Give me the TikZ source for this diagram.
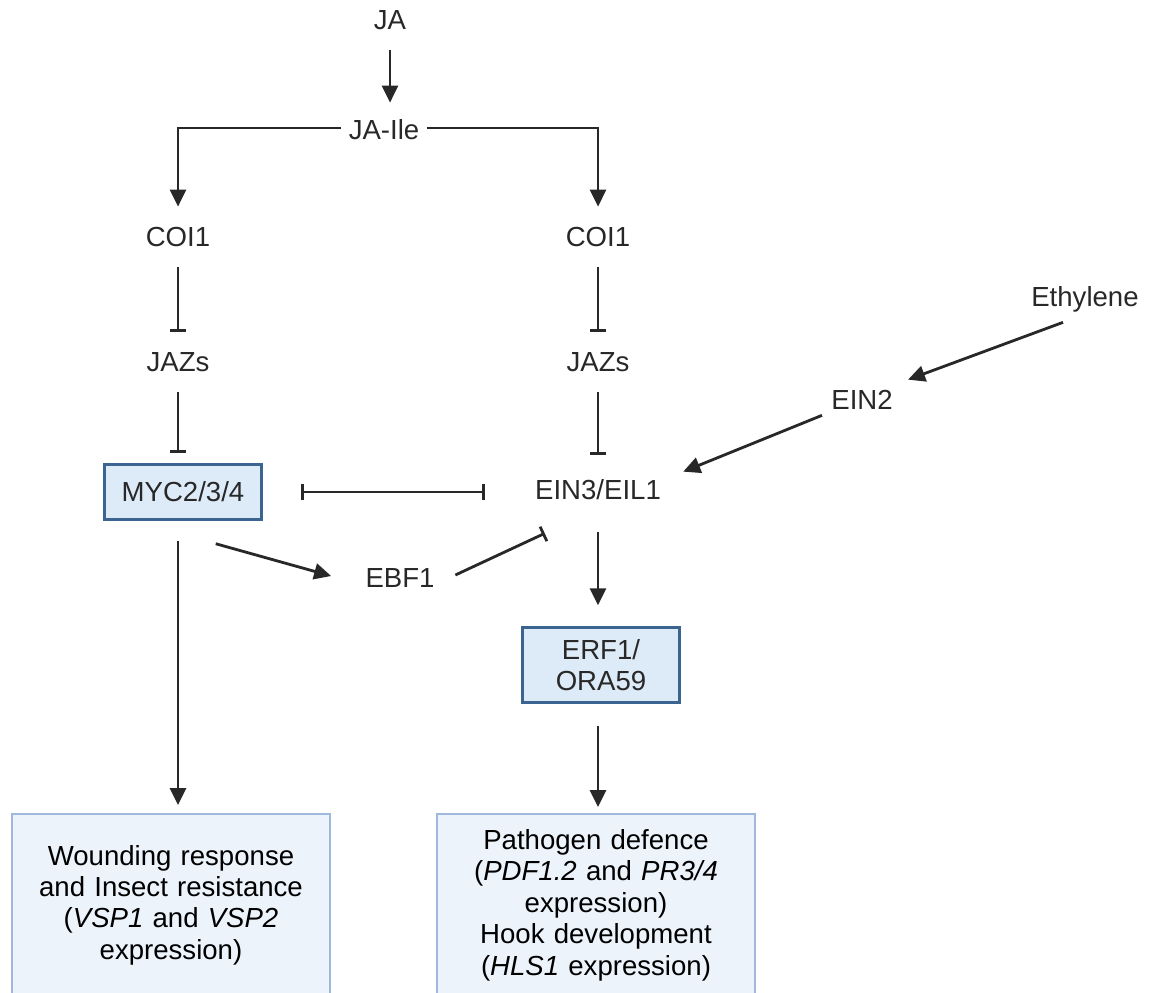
\documentclass[tikz,border=0pt]{standalone}
\usepackage{fontspec}
\setmainfont{Liberation Sans}
\usetikzlibrary{arrows.meta,positioning}
\definecolor{ink}{RGB}{40,40,40}
\definecolor{tfFill}{RGB}{221,235,248}
\definecolor{tfEdge}{RGB}{60,100,145}
\definecolor{outFill}{RGB}{237,243,251}
\definecolor{outEdge}{RGB}{160,183,222}
\tikzset{
  sig/.style={inner xsep=4pt,inner ysep=0pt,minimum height=1.2cm,text=ink,
    font=\fontsize{15.7}{17.9}\selectfont},
  tf/.style={draw=tfEdge,fill=tfFill,line width=1.4pt,minimum width=3.14cm,
    minimum height=1.1cm,align=center,text=ink,font=\fontsize{15.7}{17.9}\selectfont},
  outcome/.style={draw=outEdge,fill=outFill,line width=1.2pt,minimum width=6.36cm,
    minimum height=3.64cm,text width=6cm,align=center,anchor=north,text=black,
    font=\fontsize{15.7}{17.9}\selectfont},
  act/.style={-{Triangle[length=3.4mm,width=3.2mm]},line width=1.6pt,draw=ink},
  inh/.style={-{Bar[width=3.2mm]},line width=1.6pt,draw=ink},
  mutual/.style={{Bar[width=3.2mm]}-{Bar[width=3.2mm]},line width=1.6pt,draw=ink},
}

\begin{document}
\begin{tikzpicture}[x=0.02cm,y=-0.02cm]
  \clip (0,0) rectangle (1152,993);
  % jasmonate input
  \node[sig] (ja) at (390,20) {JA};
  \node[sig] (jaile) at (384,130) {JA-Ile};
  % the two COI1 branches
  \node[sig] (coiL) at (178,237) {COI1};
  \node[sig] (coiR) at (598,237) {COI1};
  \node[sig] (jazL) at (178,362) {JAZs};
  \node[sig] (jazR) at (598,362) {JAZs};
  \node[tf] (myc) at (183,492) {MYC2/3/4};
  \node[sig] (ein3) at (598,490) {EIN3/EIL1};
  \node[sig] (ebf) at (400,578) {EBF1};
  % ethylene side
  \node[sig] (eth) at (1085,299) {Ethylene};
  \node[sig] (ein2) at (862,400) {EIN2};
  \node[tf,minimum height=1.5cm] (erf) at (601,665) {ERF1/\\ORA59};
  % responses
  \node[outcome] (wound) at (171,813) {Wounding response\\and Insect resistance\\
    (\textit{VSP1} and \textit{VSP2}\\expression)};
  \node[outcome] (patho) at (596,813) {Pathogen defence\\(\textit{PDF1.2} and \textit{PR3/4}\\
    expression)\\Hook development\\(\textit{HLS1} expression)};

  \draw[act,shorten >=-0.06cm] (ja) -- (ja |- jaile.north);
  \draw[act] ([yshift=0.04cm]jaile.west) -| (coiL.north);
  \draw[act] ([yshift=0.04cm]jaile.east) -| (coiR.north);
  \draw[inh] (coiL) -- (jazL);
  \draw[inh] (coiR) -- (jazR);
  \draw[inh,shorten >=0.2cm] (jazL) -- (jazL |- myc.north);
  \draw[inh,shorten >=0.1cm] (jazR) -- (ein3);
  \draw[mutual,shorten <=0.77cm,shorten >=0.86cm] (myc.east) -- (myc.east -| ein3.west);
  \draw[act,shorten <=0.4cm,shorten >=0.16cm] (coiL |- myc.south) -- (coiL |- wound.north);
  \draw[act] ([shift={(-47,23)}]myc.south east) -- ([shift={(-27,-2)}]ebf.west);
  \draw[inh] ([shift={(13.5,-3)}]ebf.east) -- ([shift={(17,13)}]ein3.south west);
  \draw[act] ([shift={(-22,-7)}]eth.south) -- ([shift={(8,10)}]ein2.north east);
  \draw[act] ([shift={(-2,-15)}]ein2.south west) -- ([shift={(15,12)}]ein3.north east);
  \draw[act,shorten <=0.24cm,shorten >=0.42cm] (ein3.south) -- (ein3.south |- erf.north);
  \draw[act,shorten <=0.44cm,shorten >=0.12cm] (ein3 |- erf.south) -- (ein3 |- patho.north);
\end{tikzpicture}
\end{document}
